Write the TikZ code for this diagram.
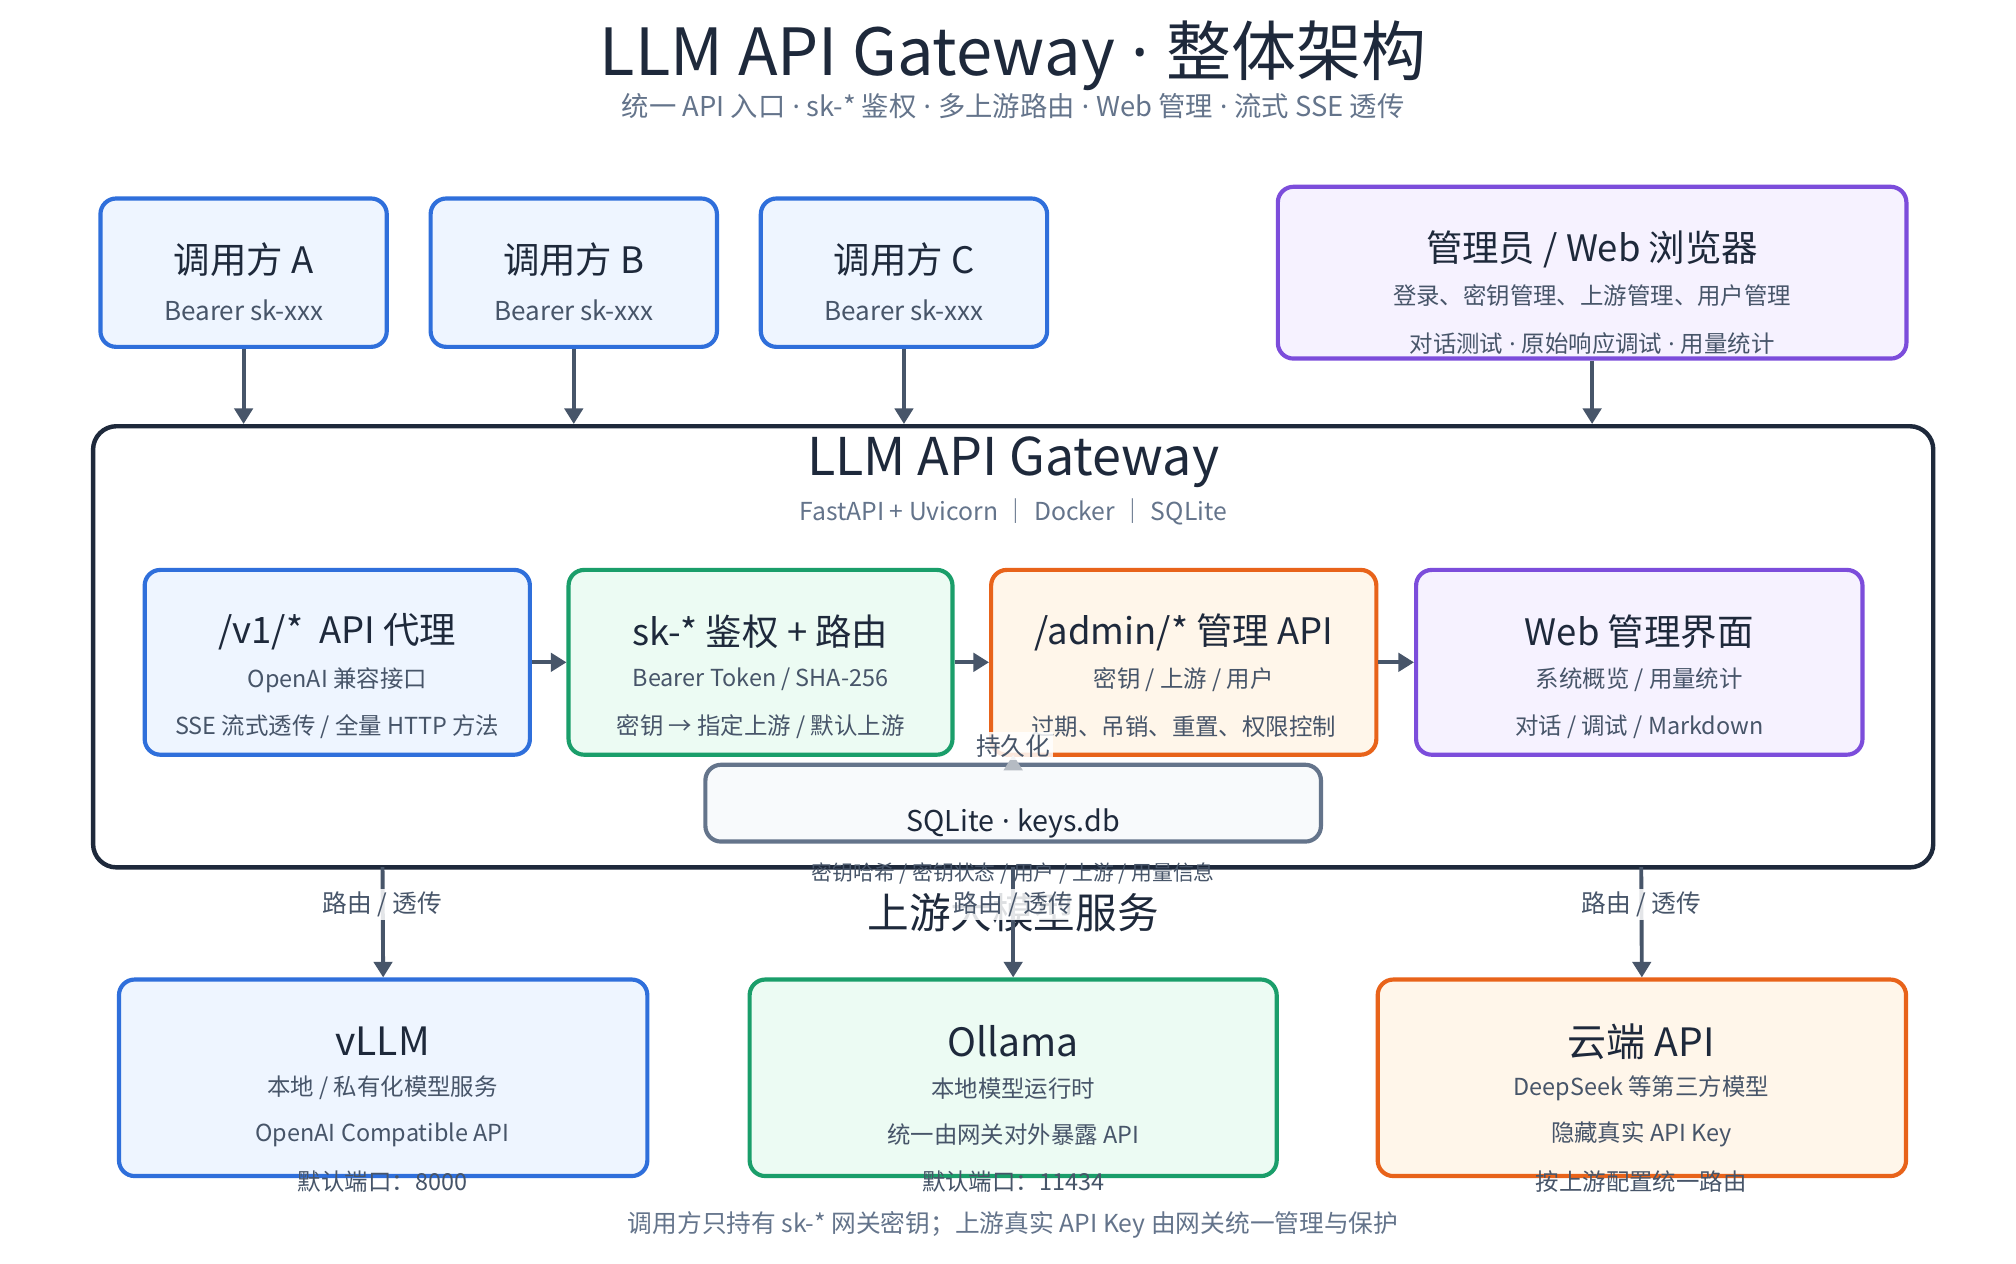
\documentclass[tikz,border=0pt]{standalone}
\usepackage{fontspec}
\setmainfont{Noto Sans CJK SC}
\newfontfamily\lat{Noto Sans}
\newcommand\md{{\lat\ ·\ }}
\usetikzlibrary{arrows.meta}
\definecolor{ink}{HTML}{1E293B}
\definecolor{sub}{HTML}{475569}
\definecolor{mut}{HTML}{64748B}
\definecolor{arr}{HTML}{475569}
\definecolor{bB}{HTML}{2F6FDB}\definecolor{fB}{HTML}{EEF5FF}
\definecolor{bG}{HTML}{1A9E6A}\definecolor{fG}{HTML}{ECFBF3}
\definecolor{bO}{HTML}{E8631A}\definecolor{fO}{HTML}{FFF6EA}
\definecolor{bP}{HTML}{7C4DDB}\definecolor{fP}{HTML}{F6F2FF}
\definecolor{bS}{HTML}{64748B}\definecolor{fS}{HTML}{F8FAFC}
\begin{document}
\begin{tikzpicture}[x=0.4965pt,y=-0.4965pt,
  box/.style={draw=#1,line width=1.6pt,rounded corners=6pt,inner sep=0pt},
  ttl/.style={font=\fontsize{14}{16}\selectfont,text=ink},
  sm/.style={font=\fontsize{10}{12}\selectfont,text=sub},
  ism/.style={font=\fontsize{9}{11}\selectfont,text=sub},
  arw/.style={draw=arr,line width=1.5pt,-{Triangle[length=6pt,width=7pt]}},
  lab/.style={font=\fontsize{9.5}{11}\selectfont,text=sub,fill=white,inner sep=1pt,fill opacity=0.85,text opacity=1}]
\useasboundingbox (0,0) rectangle (1560,978);
\fill[white] (0,0) rectangle (1560,978);
\node[font=\fontsize{25}{28}\selectfont,text=ink] (title) at (784,43) {LLM API Gateway\md 整体架构};
\node[font=\fontsize{10.5}{12}\selectfont,text=mut] (subt) at (784,82) {统一 API 入口\md sk-* 鉴权\md 多上游路由\md Web 管理\md 流式 SSE 透传};
% callers
\foreach \n/\l/\x in {ca/A/188.5,cb/B/444,cc/C/699.5}{
  \node[box=bB,fill=fB,minimum width=110pt,minimum height=57pt] (\n) at (\x,211) {};
  \node[ttl] at (\x,201) {调用方 \l};
  \node[sm] at (\x,240) {Bearer sk-xxx};
}
\node[box=bP,fill=fP,minimum width=241.5pt,minimum height=66pt] (adm) at (1232,211) {};
\node[ttl] at (1232,193) {管理员 / Web 浏览器};
\node[ism] at (1232,229) {登录、密钥管理、上游管理、用户管理};
\node[ism] at (1232,266) {对话测试\md 原始响应调试\md 用量统计};
% gateway
\node[draw=ink,line width=1.7pt,rounded corners=9pt,minimum width=707pt,minimum height=169.5pt,inner sep=0pt] (gw) at (784,500.5) {};
\node[font=\fontsize{20}{22}\selectfont,text=ink] at (784,358) {LLM API Gateway};
\node[font=\fontsize{9.5}{11}\selectfont,text=mut] at (784,396) {FastAPI + Uvicorn ｜ Docker ｜ SQLite};
\foreach \n in {ca,cb,cc}{\draw[arw] (\n.south) -- (\n.south|-gw.north);}
\draw[arw] (adm.south) -- (adm.south|-gw.north);
% inner
\node[box=bB,fill=fB,minimum width=148pt,minimum height=71pt] (v1) at (261,512.5) {};
\node[box=bG,fill=fG,minimum width=147.5pt,minimum height=71pt] (auth) at (588.5,512.5) {};
\node[box=bO,fill=fO,minimum width=148pt,minimum height=71pt] (ad) at (916,512.5) {};
\node[box=bP,fill=fP,minimum width=171.5pt,minimum height=71pt] (web) at (1268.5,512.5) {};
\node[ttl] at (261,489) {/v1/*\ \ API 代理};
\node[ism] at (261,526) {OpenAI 兼容接口};
\node[ism] at (261,562) {SSE 流式透传 / 全量 HTTP 方法};
\node[ttl] at (588.5,489) {sk-* 鉴权 + 路由};
\node[ism] at (588.5,526) {Bearer Token / SHA-256};
\node[ism] at (588.5,562) {密钥 → 指定上游 / 默认上游};
\node[ttl] at (916,489) {/admin/* 管理 API};
\node[ism] at (916,526) {密钥 / 上游 / 用户};
\node[ism] at (916,562) {过期、吊销、重置、权限控制};
\node[ttl] at (1268.5,489) {Web 管理界面};
\node[ism] at (1268.5,526) {系统概览 / 用量统计};
\node[ism] at (1268.5,562) {对话 / 调试 / Markdown};
\draw[arw] (v1.east) -- (auth.west);
\draw[arw] (auth.east) -- (ad.west);
\draw[arw] (ad.east) -- (web.west);
% sqlite
\node[box=bS,fill=fS,minimum width=236.5pt,minimum height=29.5pt] (db) at (784,621.5) {};
\node[font=\fontsize{11}{13}\selectfont,text=ink] at (784,637) {SQLite\md keys.db};
\coordinate (adb) at (784,584);
\draw[arw,draw=arr!40] (db.north) -- (adb);
\node[lab] at (784,577) {持久化};
\node[font=\fontsize{8}{10}\selectfont,text=sub] at (784,676) {密钥哈希 / 密钥状态 / 用户 / 上游 / 用量信息};
\node[font=\fontsize{16}{18}\selectfont,text=ink] (ups) at (784,706) {上游大模型服务};
% upstream
\node[box=bB,fill=fB,minimum width=203pt,minimum height=75.5pt] (vl) at (296.5,834) {};
\node[box=bG,fill=fG,minimum width=202.5pt,minimum height=75.5pt] (ol) at (784,834) {};
\node[box=bO,fill=fO,minimum width=203pt,minimum height=75.5pt] (cl) at (1270.5,834) {};
\foreach \n/\x in {vl/296,ol/784,cl/1270}{
  \draw[arw] (\x,671) -- (\n.north);
  \node[lab] at (\x,700) {路由 / 透传};
}
\node[ttl,font=\fontsize{15}{17}\selectfont] at (296,806) {vLLM};
\node[ism] at (296,842) {本地 / 私有化模型服务};
\node[ism] at (296,878) {OpenAI Compatible API};
\node[ism] at (296,914) {默认端口：8000};
\node[ttl,font=\fontsize{15}{17}\selectfont] at (784,806) {Ollama};
\node[ism] at (784,842) {本地模型运行时};
\node[ism] at (784,878) {统一由网关对外暴露 API};
\node[ism] at (784,914) {默认端口：11434};
\node[ttl,font=\fontsize{15}{17}\selectfont] at (1270,806) {云端 API};
\node[ism] at (1270,842) {DeepSeek 等第三方模型};
\node[ism] at (1270,878) {隐藏真实 API Key};
\node[ism] at (1270,914) {按上游配置统一路由};
\node[font=\fontsize{9.5}{11}\selectfont,text=mut] (foot) at (784,948) {调用方只持有 sk-* 网关密钥；上游真实 API Key 由网关统一管理与保护};
\end{tikzpicture}
\end{document}
